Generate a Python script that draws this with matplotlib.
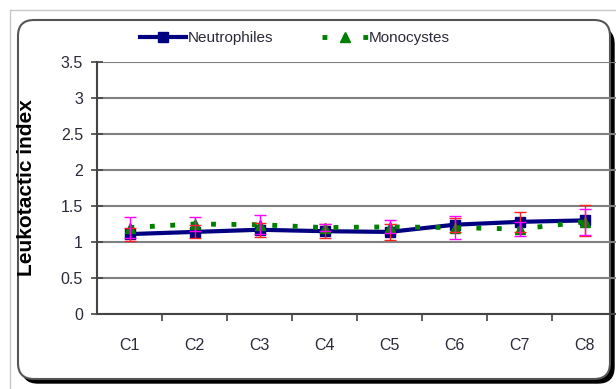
import matplotlib
matplotlib.use("Agg")
import matplotlib.pyplot as plt
from matplotlib.patches import FancyBboxPatch
from matplotlib.lines import Line2D
from matplotlib.transforms import IdentityTransform

categories = ["C1", "C2", "C3", "C4", "C5", "C6", "C7", "C8"]
neutrophiles = [1.11, 1.14, 1.17, 1.15, 1.14, 1.24, 1.28, 1.30]
neutrophiles_err = [0.09, 0.09, 0.10, 0.10, 0.11, 0.10, 0.14, 0.21]
monocystes = [1.20, 1.25, 1.24, 1.20, 1.21, 1.20, 1.18, 1.28]
monocystes_err = [0.15, 0.10, 0.13, 0.05, 0.09, 0.16, 0.10, 0.18]
y_ticks = [0, 0.5, 1, 1.5, 2, 2.5, 3, 3.5]

sans = ["Liberation Sans", "DejaVu Sans"]
text_color = "#2a2a3a"

fig = plt.figure(figsize=(6.16, 3.89), dpi=100)

# outer light border + rounded frame with shadow (pixel coords)
fig.add_artist(Line2D([10, 10], [0, 379], transform=IdentityTransform(), color="#c8c8c8", lw=1, zorder=-3))
fig.add_artist(Line2D([10, 616], [379, 379], transform=IdentityTransform(), color="#c8c8c8", lw=1, zorder=-3))
shadow = FancyBboxPatch((22, 6), 592, 355, boxstyle="round,pad=0,rounding_size=16",
                        transform=IdentityTransform(), facecolor="black", edgecolor="black", lw=1, zorder=-2)
frame = FancyBboxPatch((18, 10), 592, 359, boxstyle="round,pad=0,rounding_size=16",
                       transform=IdentityTransform(), facecolor="white", edgecolor="#555555", lw=1.5, zorder=-1)
fig.add_artist(shadow)
fig.add_artist(frame)

ax = fig.add_axes([97 / 616, 75 / 389, 520 / 616, 252 / 389])
ax.set_facecolor("none")
x = list(range(len(categories)))

ax.plot(x, neutrophiles, color="#000080", lw=3, marker="s", ms=6.5, label="Neutrophiles", zorder=3)
ax.plot(x, monocystes, color="#008000", lw=3.5, linestyle=(0, (1, 3.2)), marker="^", ms=7.5,
        label="Monocystes", zorder=4)
ax.errorbar(x, neutrophiles, yerr=neutrophiles_err, fmt="none", ecolor="#ff2020", elinewidth=1,
            capsize=4, capthick=1, zorder=5)
ax.errorbar(x, monocystes, yerr=monocystes_err, fmt="none", ecolor="#ff00ff", elinewidth=1,
            capsize=4, capthick=1, zorder=5)

ax.set_xlim(-0.5, len(categories) - 0.5)
ax.set_ylim(0, 3.5)
ax.set_yticks(y_ticks)
ax.set_yticklabels([f"{t:g}" for t in y_ticks], family=sans, fontsize=11.5, color=text_color)
ax.set_xticks(x)
ax.set_xticklabels(categories, family=sans, fontsize=11.5, color=text_color)
ax.set_xticks([i + 0.5 for i in x[:-1]], minor=True)
ax.tick_params(axis="x", which="major", length=0, pad=17)
ax.tick_params(axis="x", which="minor", length=5, width=1.2, direction="out", color="#444444")
ax.tick_params(axis="y", length=8, width=1.2, direction="inout", color="#444444", pad=6)

ax.grid(axis="y", color="#808080", lw=1.5)
ax.set_axisbelow(True)
for side in ["top", "right"]:
    ax.spines[side].set_visible(False)
for side in ["left", "bottom"]:
    ax.spines[side].set_color("#444444")
    ax.spines[side].set_linewidth(1.5)

ax.set_ylabel("Leukotactic index", family=sans, fontweight="bold", fontsize=15, color="black")
ax.yaxis.set_label_coords(-61 / 520, 0.5)

ax.legend(loc="center", bbox_to_anchor=(198 / 520, 1 + 24 / 252), ncol=2, frameon=False,
          prop={"family": sans, "size": 11}, labelcolor=text_color, handlelength=3.0,
          handletextpad=0.1, columnspacing=3.2, borderaxespad=0)

fig.savefig("out.png", dpi=100)
